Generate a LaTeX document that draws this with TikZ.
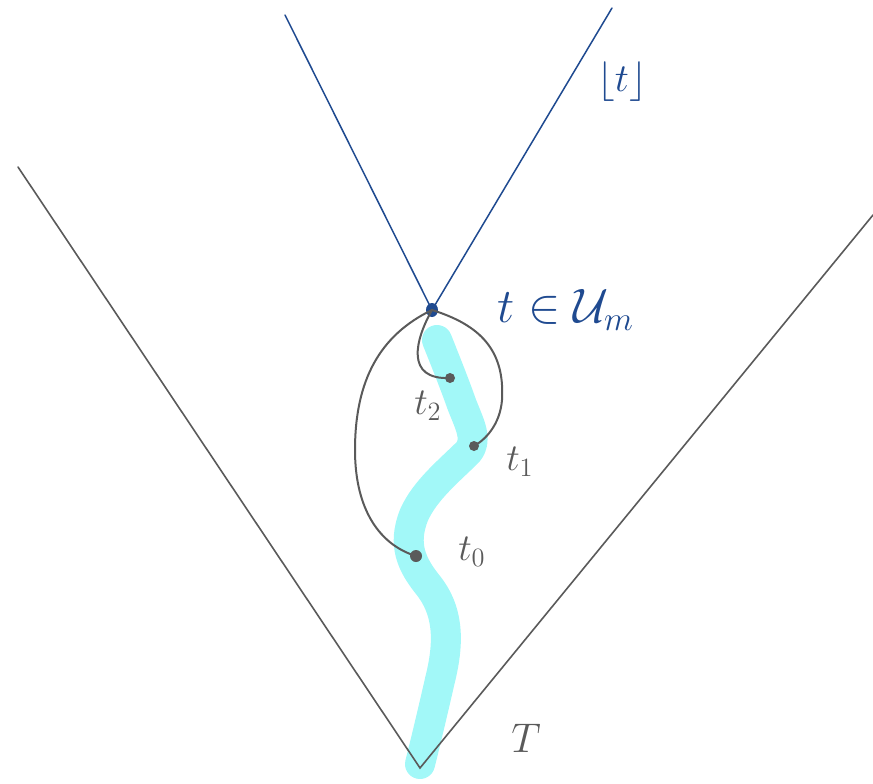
\documentclass[tikz,border=0pt]{standalone}
\usepackage{graphicx}
\usepackage{amssymb}
\newcommand{\bigtxt}[2]{\scalebox{#1}{#2}}
\begin{document}
\begin{tikzpicture}[x=1pt,y=-1pt,
  grayline/.style={draw=linegray,line width=1.6pt,line cap=round},
  blueline/.style={draw=lineblue,line width=1.5pt,line cap=round},
  curve/.style={draw=linegray,line width=2pt,line cap=round},
  dotg/.style={circle,fill=linegray,inner sep=0pt,minimum size=10pt},
  lbl/.style={text=linegray,font=\LARGE},
  blbl/.style={text=lineblue,font=\LARGE}]
\definecolor{linegray}{HTML}{5A5A5A}
\definecolor{lineblue}{HTML}{1F4A90}
\definecolor{cyanpath}{HTML}{A2F8F8}
\useasboundingbox (0,0) rectangle (873,784);
% cyan world line
\draw[cyanpath,line width=30pt,line cap=round,line join=round]
  (437,340) .. controls (445,360) and (455,385) .. (462,405)
  .. controls (470,425) and (478,440) .. (468,452)
  .. controls (450,470) and (425,490) .. (414,515)
  .. controls (402,545) and (412,565) .. (428,585)
  .. controls (448,610) and (450,640) .. (440,680)
  .. controls (432,715) and (426,740) .. (420,764);
% big light cone
\coordinate (L) at (18,167);
\coordinate (V) at (420,768);
\coordinate (R) at (873,215);
\draw[grayline] (L) -- (V) -- (R);
% blue cone
\coordinate (B) at (432,310);
\coordinate (BL) at (285,15);
\coordinate (BR) at (612,8);
\draw[blueline] (BL) -- (B) -- (BR);
\fill[lineblue] (B) ellipse (6pt and 7pt);
% points
\node[dotg] (t2) at (450,378) {};
\node[dotg] (t1) at (474,446) {};
\node[dotg,minimum size=12pt] (t0) at (416,556) {};
% curves
\draw[curve] (B) .. controls (415,340) and (405,380) .. (t2.center);
\draw[curve] (B) .. controls (480,325) and (505,350) .. (502,400)
  .. controls (500,425) and (485,440) .. (t1.center);
\draw[curve] (B) .. controls (380,335) and (355,380) .. (355,450)
  .. controls (355,510) and (380,545) .. (t0.center);
% labels
\node[lbl] (l2) at (428,406) {\bigtxt{2.2}{$t_2$}};
\node[lbl] (l1) at (520,462) {\bigtxt{2.2}{$t_1$}};
\node[lbl] (l0) at (472,552) {\bigtxt{2.2}{$t_0$}};
\node[lbl] (lT) at (526,738) {\bigtxt{2.4}{$T$}};
\node[blbl] (lf) at (622,82) {\bigtxt{2.3}{$\lfloor t\rfloor$}};
\node[blbl,anchor=west] (lu) at (494,310) {\bigtxt{2.8}{$t\in\mathcal{U}_m$}};
\end{tikzpicture}
\end{document}
